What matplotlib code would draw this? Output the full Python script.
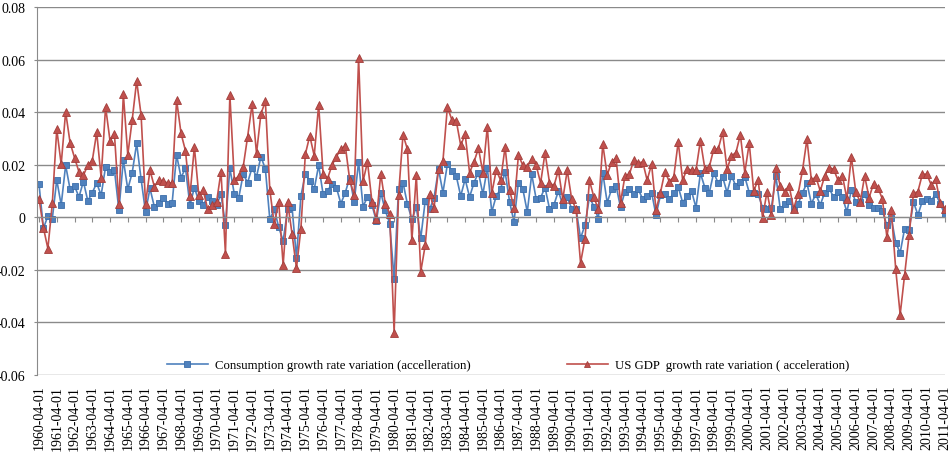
import numpy as np
import pandas as pd
import matplotlib
matplotlib.use("Agg")
import matplotlib.pyplot as plt
from matplotlib.ticker import FuncFormatter

plt.rcParams['font.family'] = ['Liberation Serif', 'DejaVu Serif']

# quarterly observations, 1960-04-01 .. 2011-04-01
dates = pd.date_range("1960-04-01", periods=205, freq="QS-JAN")

consumption = [
    0.0126, -0.0042, 0.0005, -0.0005, 0.0142, 0.0047, 0.0198, 0.0107, 0.0119, 0.0077,
    0.0136, 0.0062, 0.0094, 0.0130, 0.0084, 0.0193, 0.0174, 0.0180, 0.0027, 0.0218,
    0.0107, 0.0170, 0.0281, 0.0145, 0.0020, 0.0110, 0.0039, 0.0056, 0.0075, 0.0050,
    0.0056, 0.0237, 0.0151, 0.0187, 0.0046, 0.0113, 0.0062, 0.0047, 0.0077, 0.0062,
    0.0047, 0.0088, -0.0029, 0.0187, 0.0088, 0.0075, 0.0164, 0.0132, 0.0189, 0.0154,
    0.0231, 0.0183, -0.0008, 0.0030, -0.0037, -0.0090, 0.0030, 0.0039, -0.0154, 0.0081,
    0.0164, 0.0138, 0.0107, 0.0198, 0.0088, 0.0100, 0.0128, 0.0113, 0.0052, 0.0094,
    0.0151, 0.0058, 0.0212, 0.0041, 0.0077, 0.0047, -0.0014, 0.0094, 0.0027, -0.0024,
    -0.0234, 0.0107, 0.0132, 0.0050, -0.0008, 0.0039, -0.0080, 0.0062, 0.0030, 0.0075,
    0.0183, 0.0094, 0.0202, 0.0177, 0.0157, 0.0081, 0.0145, 0.0077, 0.0132, 0.0170,
    0.0088, 0.0189, 0.0020, 0.0081, 0.0107, 0.0174, 0.0060, -0.0017, 0.0132, 0.0107,
    0.0020, 0.0164, 0.0069, 0.0075, 0.0113, 0.0033, 0.0047, 0.0100, 0.0047, 0.0077,
    0.0033, 0.0030, -0.0080, -0.0029, 0.0077, 0.0041, -0.0005, 0.0170, 0.0056, 0.0107,
    0.0119, 0.0039, 0.0097, 0.0107, 0.0088, 0.0107, 0.0069, 0.0081, 0.0094, 0.0008,
    0.0084, 0.0088, 0.0069, 0.0091, 0.0116, 0.0056, 0.0081, 0.0100, 0.0037, 0.0168,
    0.0113, 0.0094, 0.0170, 0.0130, 0.0154, 0.0094, 0.0157, 0.0119, 0.0136, 0.0154,
    0.0094, 0.0094, 0.0088, 0.0037, 0.0030, 0.0037, 0.0157, 0.0030, 0.0050, 0.0062,
    0.0033, 0.0050, 0.0094, 0.0130, 0.0052, 0.0088, 0.0047, 0.0094, 0.0110, 0.0077,
    0.0097, 0.0077, 0.0020, 0.0104, 0.0058, 0.0058, 0.0088, 0.0047, 0.0037, 0.0037,
    0.0024, -0.0030, -0.0001, -0.0097, -0.0135, -0.0043, -0.0048, 0.0058, 0.0009, 0.0062,
    0.0071, 0.0062, 0.0090, 0.0052, 0.0014,
]

gdp = [
    0.0071, -0.0040, -0.0119, 0.0053, 0.0335, 0.0202, 0.0401, 0.0284, 0.0227, 0.0173,
    0.0160, 0.0198, 0.0215, 0.0323, 0.0151, 0.0420, 0.0291, 0.0316, 0.0050, 0.0469,
    0.0237, 0.0371, 0.0519, 0.0389, 0.0052, 0.0179, 0.0116, 0.0142, 0.0138, 0.0130,
    0.0132, 0.0446, 0.0319, 0.0253, 0.0081, 0.0268, 0.0084, 0.0103, 0.0030, 0.0046,
    0.0058, 0.0173, -0.0138, 0.0465, 0.0142, 0.0157, 0.0192, 0.0307, 0.0430, 0.0243,
    0.0394, 0.0441, 0.0104, -0.0027, 0.0060, -0.0182, 0.0058, -0.0062, -0.0194, -0.0043,
    0.0240, 0.0310, 0.0234, 0.0428, 0.0166, 0.0147, 0.0198, 0.0231, 0.0259, 0.0272,
    0.0142, 0.0084, 0.0606, 0.0137, 0.0211, 0.0060, -0.0008, 0.0166, 0.0052, 0.0014,
    -0.0439, 0.0085, 0.0314, 0.0259, -0.0088, 0.0161, -0.0207, -0.0107, 0.0088, 0.0037,
    0.0183, 0.0215, 0.0420, 0.0371, 0.0367, 0.0274, 0.0316, 0.0170, 0.0211, 0.0262,
    0.0170, 0.0345, 0.0091, 0.0179, 0.0141, 0.0268, 0.0104, 0.0037, 0.0236, 0.0198,
    0.0193, 0.0221, 0.0198, 0.0130, 0.0246, 0.0132, 0.0119, 0.0179, 0.0069, 0.0179,
    0.0069, 0.0030, -0.0174, -0.0081, 0.0140, 0.0077, 0.0030, 0.0278, 0.0161, 0.0211,
    0.0225, 0.0056, 0.0157, 0.0164, 0.0218, 0.0206, 0.0211, 0.0141, 0.0202, 0.0028,
    0.0094, 0.0174, 0.0136, 0.0154, 0.0287, 0.0141, 0.0185, 0.0179, 0.0179, 0.0292,
    0.0185, 0.0192, 0.0259, 0.0259, 0.0323, 0.0183, 0.0234, 0.0246, 0.0314, 0.0170,
    0.0282, 0.0100, 0.0142, -0.0001, 0.0097, 0.0009, 0.0187, 0.0119, 0.0097, 0.0119,
    0.0033, 0.0088, 0.0179, 0.0297, 0.0141, 0.0154, 0.0100, 0.0157, 0.0189, 0.0183,
    0.0141, 0.0157, 0.0071, 0.0230, 0.0097, 0.0058, 0.0157, 0.0075, 0.0128, 0.0113,
    0.0069, -0.0074, 0.0028, -0.0198, -0.0370, -0.0220, -0.0069, 0.0091, 0.0098, 0.0164,
    0.0164, 0.0123, 0.0145, 0.0056, 0.0030,
]

labels = [d.strftime("%Y-%m-%d") for d in dates]
x = np.arange(len(dates))

fig = plt.figure(figsize=(9.5, 4.64), dpi=100)
ax = fig.add_axes([37 / 950, 1 - 376 / 464, 908 / 950, 368 / 464])

grey = "#8a8a8a"
ax.plot(x, consumption, color="#4F81BD", lw=1.2, marker="s", ms=5,
        mfc="#4F81BD", mec="#3C6EAA", mew=0.6,
        label="Consumption growth rate variation (accelleration)")
ax.plot(x, gdp, color="#C0504D", lw=1.2, marker="^", ms=5.5,
        mfc="#C0504D", mec="#A23E3B", mew=0.6,
        label="US GDP  growth rate variation ( acceleration)")

ax.spines["bottom"].set_position(("data", 0))
ax.set_ylim(-0.06, 0.08)
ax.set_yticks(np.arange(-0.06, 0.081, 0.02))
ax.yaxis.set_major_formatter(FuncFormatter(lambda v, p: "0" if abs(v) < 1e-9 else "%.2f" % v))
ax.set_xlim(-0.45, 204.1)
ax.set_xticks(x[::4])
ax.set_xticklabels(labels[::4])

ax.grid(axis="y", color=grey, lw=1)
ax.set_axisbelow(True)
for s in ("top", "right"):
    ax.spines[s].set_visible(False)
ax.spines["left"].set_color(grey)
ax.spines["bottom"].set_color(grey)
ax.tick_params(axis="x", direction="out", length=3.5, color=grey, pad=117,
               labelrotation=90, labelsize=10)
ax.tick_params(axis="y", direction="out", length=2.5, color=grey, pad=6, labelsize=10)

ax.legend(loc="center", bbox_to_anchor=(0.519, 0.026), ncol=2, frameon=False,
          fontsize=9.2, handlelength=3.2, columnspacing=7.5, handletextpad=0.6,
          markerscale=0.8)

fig.savefig("out.png", dpi=100)
